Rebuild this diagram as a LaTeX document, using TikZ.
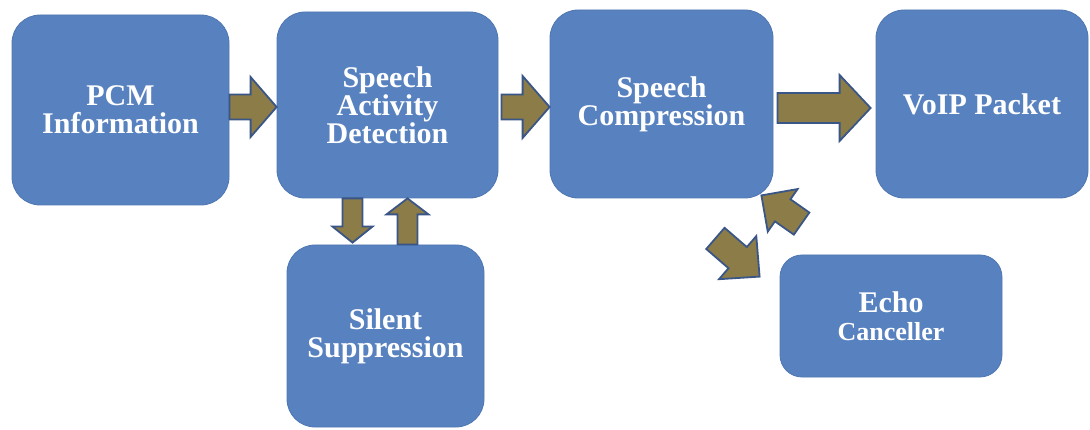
\documentclass[tikz,border=0pt]{standalone}
\usepackage{fontspec}
\setmainfont{Liberation Serif}
\usetikzlibrary{calc}
\definecolor{boxblue}{RGB}{88,130,191}
\definecolor{boxedge}{RGB}{78,118,178}
\definecolor{arrowfill}{RGB}{140,124,72}
\definecolor{arrowedge}{RGB}{58,86,135}
\newcommand\blockarrow[5]{%
  \coordinate (bH) at ($(#2)!#5!(#1)$);
  \draw[barrow] ($(#1)!#3!90:(#2)$) -- ($(bH)!#3!90:(#2)$) -- ($(bH)!#4!90:(#2)$) -- (#2)
    -- ($(bH)!#4!-90:(#2)$) -- ($(bH)!#3!-90:(#2)$) -- ($(#1)!#3!-90:(#2)$) -- cycle;}
\begin{document}
\begin{tikzpicture}[x=1pt,y=-1pt,
  blk/.style={rectangle, rounded corners=28pt, fill=boxblue, draw=boxedge, line width=0.8pt,
    text=white, align=center, font=\fontsize{30}{28}\selectfont\bfseries, inner sep=0pt},
  barrow/.style={fill=arrowfill, draw=arrowedge, line width=1.8pt, line join=miter}]
\useasboundingbox (0,0) rectangle (1090,430);
\node[blk, minimum width=217pt, minimum height=190pt] (pcm) at (120.5,110) {PCM\\Information};
\node[blk, minimum width=221pt, minimum height=186pt] (sad) at (387.5,105) {Speech\\Activity\\Detection};
\node[blk, minimum width=223pt, minimum height=188pt] (sc) at (661.5,104) {Speech\\Compression};
\node[blk, minimum width=212pt, minimum height=188pt] (voip) at (982,104) {VoIP Packet};
\node[blk, minimum width=197pt, minimum height=182pt] (ss) at (385.5,336) {Silent\\Suppression};
\node[blk, rounded corners=22pt, minimum width=222pt, minimum height=122pt] (echo) at (891,316)
  {Echo\\{\fontsize{26}{27}\selectfont Canceller}};
% horizontal arrows
\coordinate (a1s) at ([yshift=3pt]pcm.east);
\coordinate (a1t) at (a1s -| sad.west);
\blockarrow{a1s}{a1t}{12.5pt}{30pt}{26pt}
\coordinate (a2s) at ([shift={(3pt,-2pt)}]sad.east);
\coordinate (a2t) at (a2s -| sc.west);
\blockarrow{a2s}{a2t}{12.5pt}{31pt}{27pt}
\coordinate (a3s) at ([shift={(4pt,-4pt)}]sc.east);
\coordinate (a3t) at ($(a3s -| voip.west)+(-5,0)$);
\blockarrow{a3s}{a3t}{15pt}{33pt}{31pt}
% vertical arrows
\coordinate (a4s) at ([xshift=-35pt]sad.south);
\coordinate (a4t) at ($(a4s |- ss.north)+(0,-2)$);
\blockarrow{a4s}{a4t}{10pt}{20pt}{16pt}
\coordinate (a5s) at ([xshift=22pt]ss.north);
\coordinate (a5t) at (a5s |- sad.south);
\blockarrow{a5s}{a5t}{10pt}{21pt}{16pt}
% diagonal arrows
\coordinate (a6s) at ($(echo.north west)+(22,-31)$);
\coordinate (a6t) at ($(sc.south east)+(-12,-3)$);
\blockarrow{a6s}{a6t}{13.5pt}{26pt}{26pt}
\coordinate (a7s) at ($(sc.south east)+(-58,40)$);
\coordinate (a7t) at ($(echo.north west)+(-20,22)$);
\blockarrow{a7s}{a7t}{14pt}{28.5pt}{29pt}
\end{tikzpicture}
\end{document}
